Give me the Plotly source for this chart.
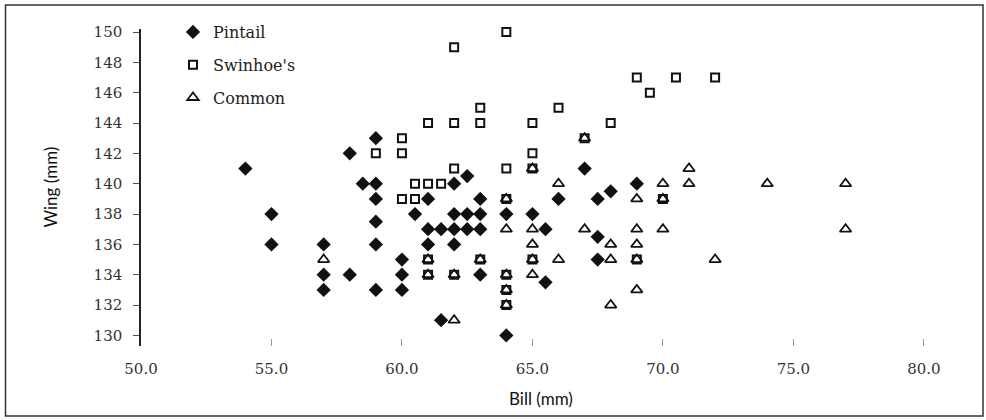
import plotly.graph_objects as go

# ---- data ----
pintail_bill = [54, 55, 55, 57, 57, 57, 58, 58, 59, 58.5, 59, 59, 59, 59, 59, 60, 60, 60,
                61, 60.5, 61, 61, 61.5, 61.5, 62, 62.5, 63, 62, 62.5, 63, 62, 62, 62.5, 63,
                63, 64, 64, 65, 65.5, 65.5, 66, 67, 67.5, 68, 67.5, 67.5, 69]
pintail_wing = [141, 138, 136, 136, 134, 133, 134, 142, 143, 140, 140, 139, 137.5, 136, 133, 135, 134, 133,
                139, 138, 137, 136, 131, 137, 137, 137, 137, 138, 138, 138, 136, 140, 140.5, 139,
                134, 138, 130, 138, 137, 133.5, 139, 141, 139, 139.5, 136.5, 135, 140]

swinhoe_bill = [64, 62, 63, 62, 63, 61, 65, 66, 68, 69, 69.5, 70.5, 72, 67, 60, 59, 60, 65,
                62, 64, 65, 60.5, 61, 61.5, 60, 60.5, 64, 61, 61, 62, 63, 64, 64, 64, 65, 69, 70]
swinhoe_wing = [150, 149, 145, 144, 144, 144, 144, 145, 144, 147, 146, 147, 147, 143, 143, 142, 142, 142,
                141, 141, 141, 140, 140, 140, 139, 139, 139, 135, 134, 134, 135, 134, 133, 132, 135, 135, 139]

common_bill = [57, 61, 61, 62, 62, 63, 64, 64, 64, 64, 64, 65, 65, 65, 65, 65, 66, 66, 67,
               67, 68, 68, 68, 69, 69, 69, 69, 69, 70, 70, 70, 71, 71, 72, 74, 77, 77]
common_wing = [135, 135, 134, 134, 131, 135, 139, 137, 134, 133, 132, 141, 137, 136, 135, 134, 140, 135, 143,
               137, 136, 135, 132, 139, 137, 136, 135, 133, 140, 139, 137, 141, 140, 135, 140, 140, 137]

x_ticks = [50, 55, 60, 65, 70, 75, 80]
y_ticks = [130, 132, 134, 136, 138, 140, 142, 144, 146, 148, 150]

INK = "#111111"
SERIF = "DejaVu Serif"

fig = go.Figure()
fig.add_trace(go.Scatter(
    x=pintail_bill, y=pintail_wing, mode="markers", name="Pintail", legendgroup="a",
    cliponaxis=False,
    marker=dict(symbol="diamond", size=11, color=INK, line=dict(width=0))))
fig.add_trace(go.Scatter(
    x=swinhoe_bill, y=swinhoe_wing, mode="markers", name="Swinhoe's", legendgroup="b",
    cliponaxis=False,
    marker=dict(symbol="square-open", size=8, color=INK, line=dict(width=2, color=INK))))
fig.add_trace(go.Scatter(
    x=common_bill, y=common_wing, mode="markers", name="Common", legendgroup="c",
    cliponaxis=False,
    marker=dict(symbol="triangle-up-open", size=10, color=INK, line=dict(width=1.8, color=INK))))

L, R, T, B = 141, 23, 29, 74
W, H = 986, 420
pw, ph = W - L - R, H - T - B

fig.update_layout(
    width=W, height=H,
    margin=dict(l=L, r=R, t=T, b=B),
    paper_bgcolor="white", plot_bgcolor="white",
    showlegend=True,
    legend=dict(x=(173 - L) / pw, y=(H - B - 15) / ph, xanchor="left", yanchor="top",
                font=dict(family=SERIF, size=16, color="#222"),
                bgcolor="rgba(0,0,0,0)", tracegroupgap=9, itemwidth=30),
    xaxis=dict(range=[50, 81.5], tickvals=x_ticks, ticktext=[f"{v:.1f}" for v in x_ticks],
               showgrid=False, zeroline=False, showline=False,
               ticks="inside", ticklen=7, tickcolor="#999", tickwidth=1,
               ticklabelstandoff=12,
               tickfont=dict(family=SERIF, size=15, color="#333")),
    yaxis=dict(range=[129.3, 150.2], tickvals=y_ticks,
               showgrid=False, zeroline=False, showline=True, linecolor="#222", linewidth=1.5,
               ticks="outside", ticklen=6, tickcolor="#555", tickwidth=1,
               ticklabelstandoff=8,
               tickfont=dict(family=SERIF, size=15, color="#333")),
    annotations=[
        dict(text="Wing (mm)", xref="paper", yref="paper", x=0, y=0.5, xshift=-91,
             textangle=-90, showarrow=False, xanchor="center", yanchor="middle",
             font=dict(family="Lato", size=17, color="#111")),
        dict(text="Bill (mm)", xref="paper", yref="paper", x=(541 - L) / pw, y=0, yshift=-52,
             showarrow=False, xanchor="center", yanchor="middle",
             font=dict(family="Lato", size=17, color="#111")),
    ],
    shapes=[
        dict(type="rect", xref="paper", yref="paper",
             x0=(5.5 - L) / pw, x1=(983 - L) / pw,
             y0=(H - B - 416) / ph, y1=(H - B - 5) / ph,
             line=dict(color="#333", width=1.5), fillcolor="rgba(0,0,0,0)", layer="below"),
    ],
)

fig.write_html("out.html",
               config={"displayModeBar": False},
               post_script="document.body.style.margin='0';document.body.style.overflow='hidden';")
